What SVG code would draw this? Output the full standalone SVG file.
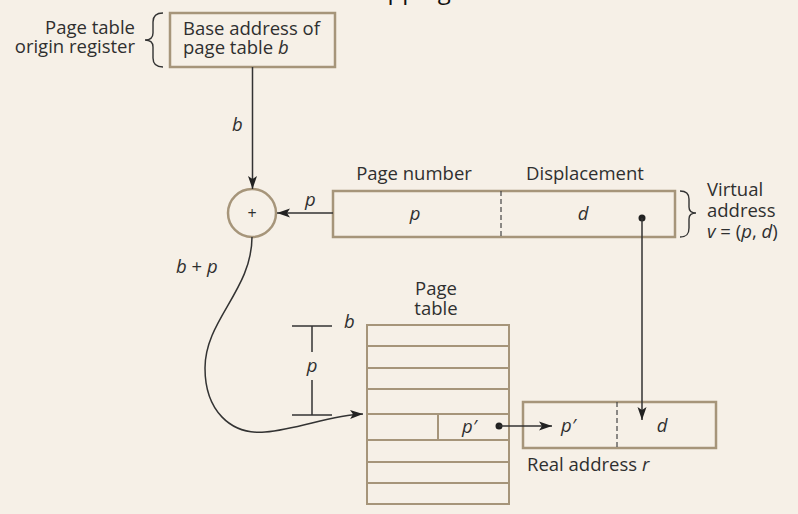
<svg xmlns="http://www.w3.org/2000/svg" width="798" height="514" viewBox="0 0 798 514">
  <style>
    text { font-family: "Open Sans", "Noto Sans", "Liberation Sans", sans-serif; font-size: 18.5px; fill: #2f2f2f; }
    .it { font-style: italic; }
    .box { fill: none; stroke: #a6957a; stroke-width: 2.5; }
    .row { fill: none; stroke: #a6957a; stroke-width: 2; }
    .dash { stroke: #444; stroke-width: 1.2; stroke-dasharray: 5 3; }
    .ln { fill: none; stroke: #333; stroke-width: 1.5; }
    .br { fill: none; stroke: #333; stroke-width: 1.4; }
    .mid { text-anchor: middle; }
    .end { text-anchor: end; }
  </style>
  <defs>
    <marker id="arr" markerUnits="userSpaceOnUse" markerWidth="14" markerHeight="10" refX="13" refY="5" orient="auto">
      <path d="M0,0.5 L13,5 L0,9.5 L3,5 z" fill="#222"/>
    </marker>
  </defs>
  <rect width="798" height="514" fill="#f6f0e7"/>

  <text x="352" y="-1" style="font-size:24px;fill:#111">mapping</text>

  <g id="register">
    <rect class="box" x="170" y="13" width="165" height="54"/>
    <text x="183" y="35">Base address of</text>
    <text x="183" y="54">page table <tspan class="it">b</tspan></text>
    <text class="end" x="135" y="34">Page table</text>
    <text class="end" x="135" y="53">origin register</text>
    <path class="br" d="M163,13 C156,13 153,16 153,22 L153,33 C153,38 150,40 145,40 C150,40 153,42 153,47 L153,58 C153,64 156,67 163,67"/>
  </g>

  <g id="adder">
    <circle cx="252" cy="213" r="24" fill="none" stroke="#a6957a" stroke-width="2.5"/>
    <text class="mid" x="252" y="219" style="font-size:16px">+</text>
  </g>

  <g id="virtual-address">
    <rect class="box" x="333" y="191" width="342" height="46"/>
    <line class="dash" x1="501" y1="191" x2="501" y2="237"/>
    <text class="it mid" x="415" y="220">p</text>
    <text class="it mid" x="583" y="220">d</text>
    <text class="mid" x="414" y="180">Page number</text>
    <text class="mid" x="585" y="180">Displacement</text>
    <circle cx="642" cy="218" r="3.5" fill="#222"/>
    <path class="br" d="M680,191 C687,191 689,194 689,199 L689,207 C689,211 691,213 696,213 C691,213 689,215 689,219 L689,228 C689,234 687,237 680,237"/>
    <text x="707" y="196">Virtual</text>
    <text x="707" y="217">address</text>
    <text x="707" y="238"><tspan class="it">v</tspan> = (<tspan class="it">p</tspan>, <tspan class="it">d</tspan>)</text>
  </g>

  <g id="page-table">
    <rect class="row" x="367" y="325" width="142" height="179"/>
    <line class="row" x1="367" y1="346" x2="509" y2="346"/>
    <line class="row" x1="367" y1="368" x2="509" y2="368"/>
    <line class="row" x1="367" y1="389" x2="509" y2="389"/>
    <line class="row" x1="367" y1="414" x2="509" y2="414"/>
    <line class="row" x1="367" y1="440" x2="509" y2="440"/>
    <line class="row" x1="367" y1="462" x2="509" y2="462"/>
    <line class="row" x1="367" y1="483" x2="509" y2="483"/>
    <line class="row" x1="438" y1="414" x2="438" y2="440"/>
    <text class="it" x="462" y="433">p′</text>
    <circle cx="499" cy="426" r="3.5" fill="#222"/>
    <text class="mid" x="436" y="295">Page</text>
    <text class="mid" x="436" y="315">table</text>
    <text class="it" x="344" y="328">b</text>
  </g>

  <g id="real-address">
    <rect class="box" x="523" y="402" width="193" height="46"/>
    <line class="dash" x1="617" y1="402" x2="617" y2="448"/>
    <text class="it" x="561" y="432">p′</text>
    <text class="it mid" x="662" y="432">d</text>
    <text x="527" y="471">Real address <tspan class="it">r</tspan></text>
  </g>

  <g id="connectors">
    <line class="ln" x1="252.5" y1="67" x2="252.5" y2="189" marker-end="url(#arr)"/>
    <text class="it" x="232" y="131">b</text>
    <line class="ln" x1="333" y1="213" x2="277" y2="213" marker-end="url(#arr)"/>
    <text class="it" x="305" y="206">p</text>
    <path class="ln" d="M252,237 C252,290 205,320 205,368 C205,410 230,435 265,432 C300,429 330,415 363,414" marker-end="url(#arr)"/>
    <text x="176" y="273"><tspan class="it">b</tspan> + <tspan class="it">p</tspan></text>
    <line class="ln" x1="292" y1="326" x2="332" y2="326"/>
    <line class="ln" x1="292" y1="415" x2="332" y2="415"/>
    <line class="ln" x1="312" y1="326" x2="312" y2="352"/>
    <line class="ln" x1="312" y1="380" x2="312" y2="415"/>
    <text class="it mid" x="312" y="372">p</text>
    <line class="ln" x1="642" y1="218" x2="642" y2="420" marker-end="url(#arr)"/>
    <line class="ln" x1="499" y1="426" x2="552" y2="426" marker-end="url(#arr)"/>
  </g>
</svg>
